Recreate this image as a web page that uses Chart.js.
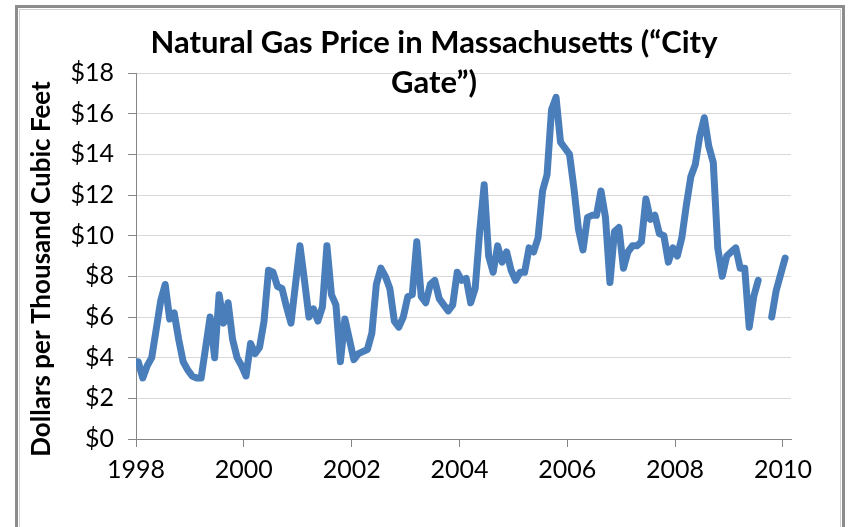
<!DOCTYPE html>
<html>
<head>
<meta charset="utf-8">
<title>Natural Gas Price in Massachusetts</title>
<script src="https://cdn.jsdelivr.net/npm/chart.js@4.4.0/dist/chart.umd.min.js"></script>
<style>
  html, body { margin: 0; padding: 0; background: #fff; }
  #wrap { width: 850px; height: 527px; }
</style>
</head>
<body>
<div id="wrap"><canvas id="gas" width="850" height="527"></canvas></div>
<script>
// monthly city gate price, $ per thousand cubic feet (Jan..Dec)
const price1998 = [3.8, 3.0, 3.6, 4.0, 5.4, 6.8, 7.6, 5.9, 6.2, 4.9, 3.8, 3.4];
const price1999 = [3.1, 3.0, 3.0, 4.5, 6.0, 4.0, 7.1, 5.7, 6.7, 4.9, 4.0, 3.6];
const price2000 = [3.1, 4.7, 4.2, 4.5, 5.8, 8.3, 8.2, 7.5, 7.4, 6.5, 5.7, 7.6];
const price2001 = [9.5, 7.8, 6.0, 6.4, 5.8, 6.5, 9.5, 7.1, 6.6, 3.8, 5.9, 4.9];
const price2002 = [3.9, 4.2, 4.3, 4.4, 5.2, 7.6, 8.4, 8.0, 7.4, 5.8, 5.5, 6.0];
const price2003 = [7.0, 7.1, 9.7, 7.0, 6.7, 7.6, 7.8, 6.9, 6.6, 6.3, 6.6, 8.2];
const price2004 = [7.8, 7.9, 6.7, 7.4, 10.2, 12.5, 9.0, 8.2, 9.5, 8.7, 9.2, 8.3];
const price2005 = [7.8, 8.2, 8.2, 9.4, 9.2, 9.9, 12.2, 13.0, 16.2, 16.8, 14.6, 14.3];
const price2006 = [14.0, 12.3, 10.3, 9.3, 10.9, 11.0, 11.0, 12.2, 10.9, 7.7, 10.2, 10.4];
const price2007 = [8.4, 9.2, 9.5, 9.5, 9.7, 11.8, 10.8, 11.0, 10.1, 10.0, 8.7, 9.4];
const price2008 = [9.0, 9.9, 11.5, 12.9, 13.5, 14.9, 15.8, 14.4, 13.6, 9.4, 8.0, 9.0];
const price2009 = [9.2, 9.4, 8.4, 8.4, 5.5, 7.0, 7.8, null, null, 6.0, 7.3, 8.1];
const price2010 = [8.9];

const xTicks = [1998, 2000, 2002, 2004, 2006, 2008, 2010];
const yMax = 18;
const yStep = 2;

const prices = [].concat(price1998, price1999, price2000, price2001, price2002,
  price2003, price2004, price2005, price2006, price2007, price2008, price2009, price2010);

// points sit in the middle of each month
const points = prices.map((v, i) => ({ x: xTicks[0] + (i + 0.5) / 12, y: v }));

const tickFont = { family: 'Lato', size: 25 };
const axisGray = '#868686';

const frameAndTitles = {
  id: 'frameAndTitles',
  beforeDraw(chart) {
    const ctx = chart.ctx;
    ctx.save();
    ctx.fillStyle = '#fff';
    ctx.fillRect(0, 0, chart.width, chart.height);
    ctx.strokeStyle = '#8c8c8c';
    ctx.lineWidth = 3;
    ctx.strokeRect(16.5, 6.5, 827, 540);
    ctx.strokeStyle = '#d0d0d0';
    ctx.lineWidth = 1;
    ctx.strokeRect(19.5, 9.5, 821, 540);
    ctx.restore();
  },
  afterDraw(chart) {
    const ctx = chart.ctx;
    ctx.save();
    ctx.fillStyle = '#000';
    ctx.textAlign = 'center';
    ctx.textBaseline = 'middle';
    ctx.font = 'bold 31px Lato';
    ctx.fillText('Natural Gas Price in Massachusetts (\u201cCity', 434, 43);
    ctx.fillText('Gate\u201d)', 434, 83);
    ctx.translate(42, 269);
    ctx.rotate(-Math.PI / 2);
    ctx.font = 'bold 26px Lato';
    ctx.fillText('Dollars per Thousand Cubic Feet', 0, 0);
    ctx.restore();
  }
};

new Chart(document.getElementById('gas'), {
  type: 'line',
  data: {
    datasets: [{
      data: points,
      borderColor: '#4a7ebb',
      borderWidth: 7,
      borderJoinStyle: 'round',
      borderCapStyle: 'round',
      pointRadius: 0,
      tension: 0,
      spanGaps: false
    }]
  },
  options: {
    responsive: false,
    animation: false,
    devicePixelRatio: 1,
    layout: { padding: { top: 73, right: 59, bottom: 0, left: 0 } },
    plugins: {
      legend: { display: false },
      tooltip: { enabled: false }
    },
    scales: {
      x: {
        type: 'linear',
        min: 1998,
        max: 2010.15,
        afterBuildTicks: s => { s.ticks = xTicks.map(v => ({ value: v })); },
        afterFit: s => { s.height = 88; },
        ticks: {
          font: tickFont,
          color: '#000',
          padding: 8,
          maxRotation: 0,
          callback: v => String(v)
        },
        grid: { drawOnChartArea: false, drawTicks: true, tickLength: 8, tickColor: axisGray },
        border: { color: axisGray, width: 1 }
      },
      y: {
        min: 0,
        max: yMax,
        afterFit: s => { s.width = 136; },
        ticks: {
          stepSize: yStep,
          font: tickFont,
          color: '#000',
          padding: 14,
          callback: v => '$' + v
        },
        grid: { color: '#d9d9d9', tickLength: 8, tickColor: axisGray },
        border: { color: axisGray, width: 1 }
      }
    }
  },
  plugins: [frameAndTitles]
});
</script>
</body>
</html>
